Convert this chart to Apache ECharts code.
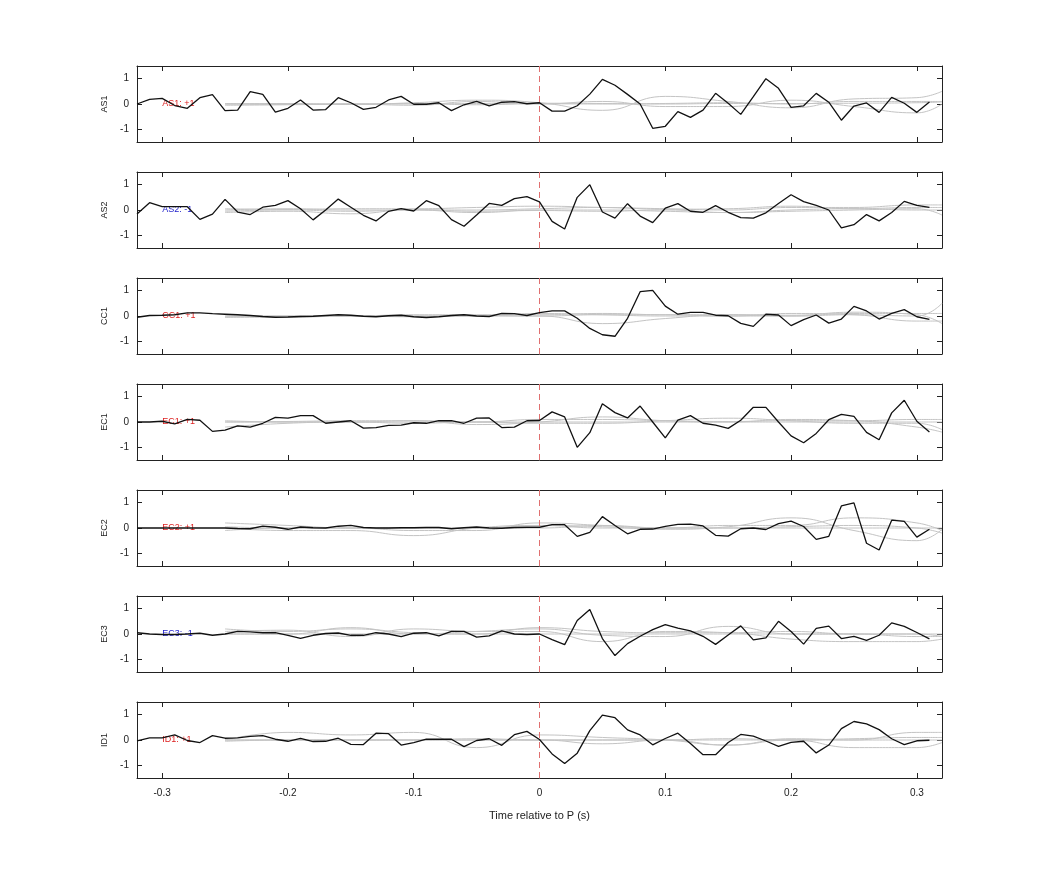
<!DOCTYPE html>
<html><head><meta charset="utf-8">
<script src="https://cdn.jsdelivr.net/npm/echarts@6/dist/echarts.min.js"></script>
<style>html,body{margin:0;padding:0;background:#fff}#c{width:1042px;height:875px}</style>
</head><body><div id="c"></div>
<script>
const channels = ['AS1','AS2','CC1','EC1','EC2','EC3','ID1'];
const polarity = ['+1','-1','+1','+1','+1','-1','+1'];
const xTicks = [-0.3,-0.2,-0.1,0,0.1,0.2,0.3];
const yTicks = [-1,0,1];
const grayX = [-0.25,-0.2,-0.15,-0.1,-0.05,0,0.05,0.1,0.15,0.2,0.25,0.3,0.32];

const traceAS1 = [0,0.18,0.22,-0.06,-0.17,0.25,0.37,-0.26,-0.24,0.49,0.38,-0.32,-0.17,0.16,-0.24,-0.22,0.25,0.05,-0.21,-0.13,0.16,0.3,-0.01,-0.01,0.05,-0.26,-0.03,0.1,-0.07,0.07,0.09,0.01,0.05,
  -0.28,-0.28,-0.07,0.39,0.97,0.74,0.38,0,-0.96,-0.88,-0.3,-0.53,-0.24,0.42,0.03,-0.41,0.29,1.0,0.62,-0.13,-0.07,0.42,0.07,-0.64,-0.08,0.04,-0.33,0.26,0.03,-0.33,0.08];
const traceAS2 = [-0.16,0.29,0.13,0.13,0.13,-0.37,-0.16,0.42,-0.08,-0.18,0.11,0.18,0.37,0.05,-0.39,0,0.43,0.11,-0.21,-0.43,-0.05,0.05,-0.04,0.37,0.17,-0.38,-0.64,-0.2,0.26,0.18,0.45,0.53,0.32,
  -0.45,-0.75,0.5,1.0,-0.08,-0.32,0.25,-0.24,-0.5,0.07,0.25,-0.05,-0.09,0.17,-0.09,-0.3,-0.32,-0.11,0.26,0.6,0.33,0.18,0,-0.71,-0.58,-0.18,-0.43,-0.1,0.34,0.18,0.1];
const traceCC1 = [-0.05,0.02,0.03,0.05,0.12,0.12,0.09,0.07,0.05,0.02,-0.02,-0.05,-0.04,-0.02,-0.01,0.02,0.05,0.03,-0.01,-0.03,0.01,0.03,-0.03,-0.06,-0.03,0.02,0.05,0,-0.02,0.1,0.09,0.02,0.13,
  0.2,0.2,-0.09,-0.49,-0.74,-0.8,-0.09,0.96,1.01,0.39,0.07,0.14,0.14,0.03,0.01,-0.29,-0.41,0.07,0.04,-0.38,-0.14,0.04,-0.28,-0.12,0.38,0.2,-0.12,0.1,0.25,-0.03,-0.13];
const traceEC1 = [0,0,0.03,-0.07,0.1,0.07,-0.37,-0.32,-0.15,-0.2,-0.05,0.18,0.15,0.25,0.25,-0.05,0,0.05,-0.24,-0.22,-0.13,-0.12,-0.03,-0.05,0.05,0.05,-0.05,0.15,0.16,-0.22,-0.2,0.05,0.06,
  0.4,0.2,-1.0,-0.42,0.72,0.37,0.16,0.63,0,-0.63,0.07,0.25,-0.05,-0.12,-0.25,0.07,0.58,0.58,0,-0.55,-0.82,-0.45,0.09,0.3,0.22,-0.41,-0.7,0.36,0.86,0.03,-0.39];
const traceEC2 = [0,0,0,0,0,0,0,0,-0.02,-0.03,0.07,0.03,-0.05,0.04,0.01,0,0.07,0.1,0.02,0,0,0.01,0.01,0.02,0.02,-0.03,0.01,0.04,0,-0.01,0.02,0.03,0.03,
  0.13,0.13,-0.33,-0.17,0.45,0.1,-0.23,-0.05,-0.04,0.06,0.14,0.15,0.08,-0.29,-0.32,-0.03,0,-0.06,0.17,0.27,0.06,-0.45,-0.33,0.87,0.99,-0.6,-0.87,0.31,0.26,-0.36,-0.05];
const traceEC3 = [0.05,0,-0.02,-0.02,0,0.03,-0.05,0,0.1,0.08,0.05,0.05,-0.05,-0.17,-0.05,0.02,0.04,-0.05,-0.05,0.05,0,-0.1,0.03,0.05,-0.07,0.1,0.1,-0.12,-0.07,0.12,0,-0.02,0,
  -0.22,-0.42,0.53,0.97,-0.18,-0.85,-0.38,-0.09,0.17,0.37,0.23,0.12,-0.09,-0.41,-0.04,0.32,-0.23,-0.15,0.5,0.1,-0.4,0.22,0.31,-0.18,-0.09,-0.25,-0.05,0.44,0.3,0.06,-0.19];
const traceID1 = [-0.03,0.08,0.08,0.2,-0.02,-0.1,0.17,0.07,0.08,0.14,0.17,0.03,-0.05,0.06,-0.06,-0.05,0.07,-0.17,-0.18,0.27,0.25,-0.2,-0.1,0.03,0.03,0.03,-0.26,-0.02,0.05,-0.21,0.21,0.34,0.02,
  -0.55,-0.93,-0.52,0.37,0.98,0.88,0.4,0.2,-0.19,0.06,0.27,-0.14,-0.58,-0.58,-0.1,0.22,0.15,-0.04,-0.25,-0.09,-0.05,-0.51,-0.2,0.45,0.73,0.64,0.41,0.05,-0.18,-0.03,-0.01];

const grayAS1 = [[0,0,0,0,0.02,0.03,0.02,0,0.02,0.02,0.03,0.05,0.08],[0,0.02,-0.02,0.05,0.15,0.05,-0.25,0.3,0.1,-0.15,0.2,0.25,0.5],[0.02,-0.02,0,-0.05,0.1,0,0.1,-0.1,-0.1,0.15,-0.1,-0.35,0],[-0.05,-0.03,0,0.02,-0.03,0.01,0,0.02,0.05,0,0.1,0.1,0.1]];
const grayAS2 = [[0.05,0.02,0.05,0.05,0.1,0.15,0.1,0.05,0,0.1,0.1,0.2,0.2],[-0.1,-0.05,-0.15,0.02,-0.05,-0.02,-0.05,0,-0.1,-0.05,0,0.05,-0.2],[0,0.05,0,0,0,0.05,0.1,0.03,0.05,0.15,0.05,0.1,0.1],[-0.05,0,-0.05,0,-0.1,0,0,-0.05,-0.1,0,0.05,0,0]];
const grayCC1 = [[-0.05,-0.05,0,0,0,0.1,0.05,0,0,0,0.05,0,0.5],[0,0,0,0,0,0,-0.3,-0.1,0.05,0,0.1,0.1,0.1],[-0.05,0,0,0.05,0.05,0.05,0.1,0.05,0.05,0.03,0.15,0.05,-0.3],[0,-0.02,0,-0.03,0.02,0,0.05,0.05,0,0.1,0.05,-0.2,-0.2]];
const grayEC1 = [[0,0.02,0.05,0.05,0,0.1,0.1,0.05,0.02,0.05,0.05,0.1,0.1],[-0.2,-0.05,0,-0.05,0,-0.05,-0.05,0.05,0.15,0.05,-0.05,-0.05,-0.3],[0.05,0,0,0.05,-0.1,0,0.2,0.05,0,0.1,0.05,-0.2,-0.4],[0,0,0,0,0,0,0,0,0,0,0,0,0]];
const grayEC2 = [[0.2,0.1,0,0,0,0.1,0.05,-0.05,0.05,0.4,-0.1,-0.5,-0.05],[-0.1,0,0,-0.1,-0.1,0.2,0.1,0,0.1,0.1,0.4,0.2,-0.1],[0,-0.1,-0.1,-0.3,0,0.1,0,0,0,0,0,0,0],[0.05,0,0,0,0,0,0.1,0,0,0.05,0.1,0,-0.2]];
const grayEC3 = [[0.2,0.1,0.2,0.05,0,0.25,0.1,0.05,0.05,0.1,0,0,-0.1],[0.1,0.15,-0.1,0.2,0.1,0.1,-0.3,0.1,0.05,-0.2,-0.3,-0.3,-0.2],[0,0,0.25,0,0.1,0.2,-0.05,-0.1,0.3,0,0,-0.1,-0.1],[0,0,0,0,0,0,0,0,0,0,0,0,0]];
const grayID1 = [[0,0.3,0.2,0.3,-0.3,0.2,0.1,0,-0.2,0.05,0,0.3,0.3],[0,0,0,0,0,0,-0.15,0,0,0,0,0,0],[-0.05,0,0,0,0.05,0,0,0,0.05,0,0.05,0.1,0.1],[0,0,0,0,0,0,0,0,-0.2,0,-0.3,-0.3,-0.1]];

const traces = [traceAS1,traceAS2,traceCC1,traceEC1,traceEC2,traceEC3,traceID1];
const grays = [grayAS1,grayAS2,grayCC1,grayEC1,grayEC2,grayEC3,grayID1];

const FONT = 'Liberation Sans';
const grid=[], xAxis=[], yAxis=[], series=[];
const n = channels.length;
channels.forEach((ch,i)=>{
  const last = i===n-1;
  grid.push({left:137, width:805, top:66+106*i, height:76});
  const axLine = {show:true, onZero:false, lineStyle:{color:'#222', width:1}};
  const tick = (vals)=>({inside:true, length:5, lineStyle:{color:'#222'}, customValues:vals});
  xAxis.push({gridIndex:i, type:'value', min:-0.32, max:0.32, position:'bottom',
    axisLine:axLine, splitLine:{show:false}, axisTick:tick(xTicks),
    axisLabel:{show:last, customValues:xTicks, color:'#222', fontSize:10, fontFamily:FONT, margin:10},
    name: last?'Time relative to P (s)':'', nameLocation:'middle', nameGap:32,
    nameTextStyle:{color:'#222', fontSize:11, fontFamily:FONT}});
  xAxis.push({gridIndex:i, type:'value', min:-0.32, max:0.32, position:'top',
    axisLine:axLine, splitLine:{show:false}, axisTick:tick(xTicks), axisLabel:{show:false}});
  yAxis.push({gridIndex:i, type:'value', min:-1.5, max:1.5, position:'left',
    axisLine:axLine, splitLine:{show:false}, axisTick:tick(yTicks),
    axisLabel:{customValues:yTicks, color:'#222', fontSize:10, fontFamily:FONT, margin:8},
    name:ch, nameLocation:'middle', nameGap:27, nameRotate:90,
    nameTextStyle:{color:'#222', fontSize:9, fontFamily:FONT}});
  yAxis.push({gridIndex:i, type:'value', min:-1.5, max:1.5, position:'right',
    axisLine:axLine, splitLine:{show:false}, axisTick:tick(yTicks), axisLabel:{show:false}});
  grays[i].forEach(g=>{
    series.push({type:'line', xAxisIndex:2*i, yAxisIndex:2*i, smooth:0.5, symbol:'none', silent:true,
      lineStyle:{color:'#c4c4c4', width:1}, data:grayX.map((x,k)=>[x,g[k]])});
  });
  const pol = polarity[i];
  series.push({type:'line', xAxisIndex:2*i, yAxisIndex:2*i, symbol:'none', z:5,
    lineStyle:{color:'#111', width:1.3},
    data:traces[i].map((v,k)=>[Math.round((-0.32+0.01*k)*100)/100, v]),
    markLine:{silent:true, symbol:'none', label:{show:false},
      lineStyle:{color:'#e07070', type:[6,4], width:1}, data:[{xAxis:0}]},
    markPoint:{silent:true, symbol:'circle', symbolSize:0,
      data:[{coord:[-0.3,0], label:{show:true, position:'right', distance:0, formatter:ch+': '+pol,
        color: pol==='+1' ? '#dd2222' : '#2222cc', fontSize:9, fontFamily:FONT}}]}
  });
});
const chart = echarts.init(document.getElementById('c'));
chart.setOption({animation:false, backgroundColor:'#fff', grid, xAxis, yAxis, series});
</script></body></html>
